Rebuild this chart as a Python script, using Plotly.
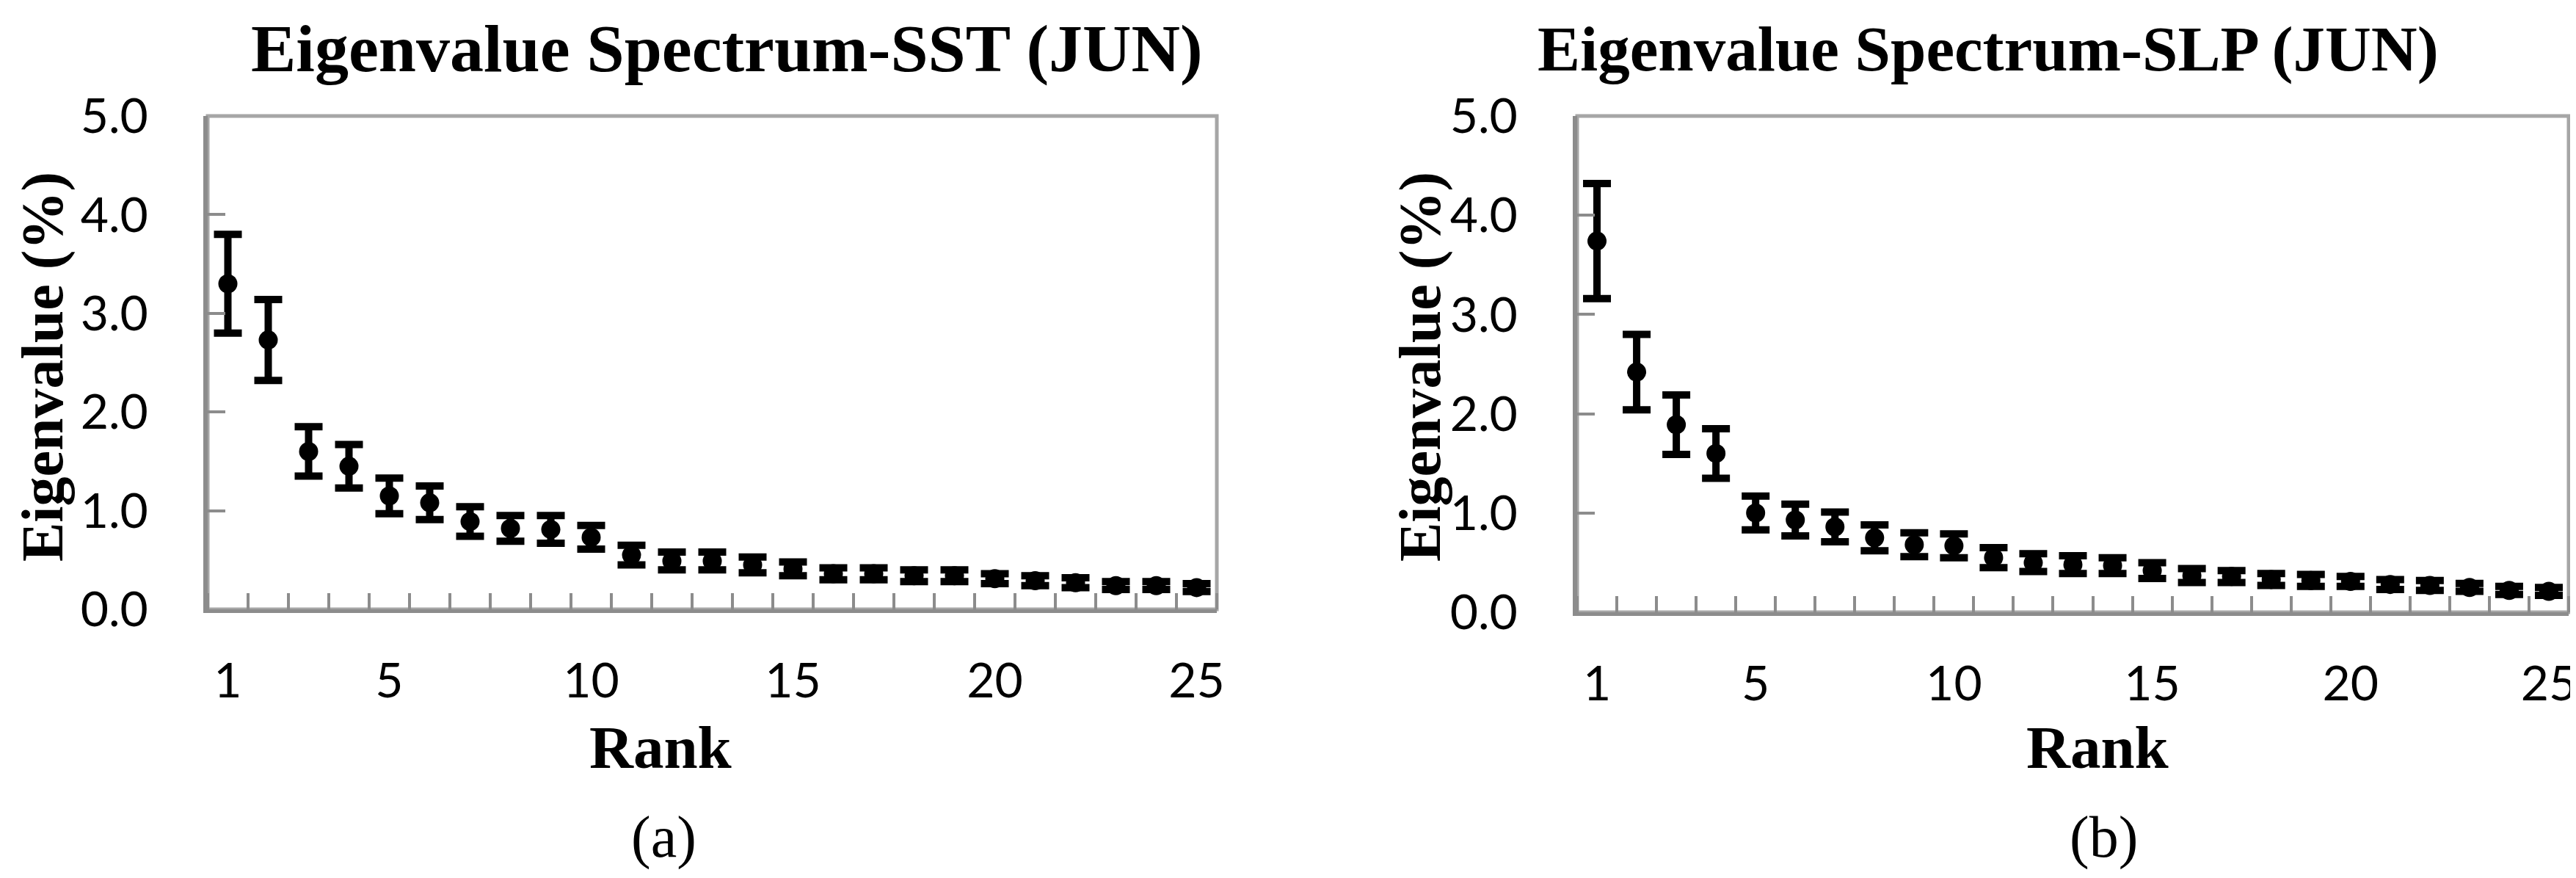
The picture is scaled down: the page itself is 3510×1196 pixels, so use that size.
# Eigenvalue spectra (SST and SLP, June) with error bars, two panels side by side
import plotly.graph_objects as go
from plotly.subplots import make_subplots

rank = list(range(1, 26))

# panel (a): SST
sst_val = [3.30, 2.73, 1.60, 1.45, 1.15, 1.08, 0.89, 0.82, 0.81, 0.73,
           0.55, 0.49, 0.49, 0.45, 0.41, 0.36, 0.36, 0.34, 0.34, 0.31,
           0.29, 0.27, 0.24, 0.24, 0.22]
sst_err = [0.50, 0.41, 0.25, 0.22, 0.18, 0.17, 0.15, 0.13, 0.14, 0.12,
           0.10, 0.09, 0.09, 0.08, 0.07, 0.06, 0.06, 0.06, 0.06, 0.05,
           0.05, 0.05, 0.04, 0.04, 0.04]

# panel (b): SLP
slp_val = [3.74, 2.42, 1.89, 1.60, 1.00, 0.93, 0.86, 0.75, 0.68, 0.67,
           0.55, 0.50, 0.48, 0.47, 0.42, 0.37, 0.36, 0.33, 0.32, 0.31,
           0.28, 0.27, 0.25, 0.22, 0.21]
slp_err = [0.58, 0.38, 0.30, 0.25, 0.17, 0.16, 0.15, 0.13, 0.12, 0.12,
           0.10, 0.09, 0.09, 0.08, 0.08, 0.07, 0.06, 0.06, 0.06, 0.05,
           0.05, 0.05, 0.04, 0.04, 0.04]

x_labels = [1, 5, 10, 15, 20, 25]
y_ticks = [0, 1, 2, 3, 4, 5]

# the page body has an 8px margin, so the figure is 8px smaller than the window
OFF = 8
W, H = 3510 - OFF, 1196 - OFF
AXIS_GREY = "#8c8c8c"
BORDER_GREY = "#a6a6a6"
SERIF = "Liberation Serif, Times New Roman, serif"
SANS = "Lato, Carlito, Calibri, sans-serif"

fig = make_subplots(rows=1, cols=2)

for col, vals, errs in [(1, sst_val, sst_err), (2, slp_val, slp_err)]:
    fig.add_trace(go.Scatter(
        x=rank, y=vals, mode="markers",
        marker=dict(color="black", size=26, symbol="circle"),
        error_y=dict(type="data", array=errs, visible=True,
                     color="black", thickness=10, width=19),
        showlegend=False), row=1, col=col)

# window pixel positions (from the top-left corner) -> paper fractions
def px_x(p):
    return (p - OFF) / W

def px_y(p):
    return 1 - (p - OFF) / H

fig.update_layout(
    template="none",
    width=W, height=H, autosize=False,
    margin=dict(l=0, r=0, t=0, b=0, pad=0),
    paper_bgcolor="white", plot_bgcolor="white",
    xaxis=dict(domain=[px_x(283), px_x(1658)]),
    xaxis2=dict(domain=[px_x(2149), px_x(3500)]),
    yaxis=dict(domain=[px_y(830), px_y(158)]),
    yaxis2=dict(domain=[px_y(834), px_y(158)]),
)

fig.update_xaxes(
    automargin=False, ticklabeloverflow="allow",
    range=[0.5, 25.5], tickmode="array", tickvals=x_labels,
    ticks="", showgrid=False, zeroline=False,
    showline=True, linecolor=AXIS_GREY, linewidth=5,
    tickfont=dict(family=SANS, size=66, color="black"),
    ticklabelstandoff=36,
    minor=dict(tickmode="array", tickvals=[i + 0.5 for i in range(0, 26)],
               ticks="inside", ticklen=22, tickwidth=4, tickcolor=AXIS_GREY,
               showgrid=False),
)
fig.update_yaxes(
    automargin=False, ticklabeloverflow="allow",
    range=[0, 5], tickmode="array", tickvals=y_ticks, tickformat=".1f",
    ticks="inside", ticklen=24, tickwidth=4, tickcolor=AXIS_GREY,
    showgrid=False, zeroline=False,
    showline=True, linecolor=AXIS_GREY, linewidth=6,
    tickfont=dict(family=SANS, size=66, color="black"),
    ticklabelstandoff=62,
)

# lighter outer frame on the top and right sides
for xr, yr in [("x domain", "y domain"), ("x2 domain", "y2 domain")]:
    fig.add_shape(type="rect", xref=xr, yref=yr, x0=0, x1=1, y0=0, y1=1,
                  line=dict(color=BORDER_GREY, width=5), layer="below")

texts = [
    # text, x px, y px, size, bold, angle
    ("Eigenvalue Spectrum-SST (JUN)", 990, 66, 92, True, 0),
    ("Eigenvalue Spectrum-SLP (JUN)", 2709, 66, 87, True, 0),
    ("Eigenvalue (%)", 58, 500, 80, True, -90),
    ("Eigenvalue (%)", 1935, 500, 80, True, -90),
    ("Rank", 900, 1018, 83, True, 0),
    ("Rank", 2858, 1018, 83, True, 0),
    ("(a)", 904, 1140, 80, False, 0),
    ("(b)", 2866, 1140, 80, False, 0),
]
for t, xp, yp, sz, bold, ang in texts:
    fig.add_annotation(
        text="<b>%s</b>" % t if bold else t,
        x=px_x(xp), y=px_y(yp), xref="paper", yref="paper",
        xanchor="center", yanchor="middle", showarrow=False,
        textangle=ang, font=dict(family=SERIF, size=sz, color="black"))

fig.write_html("out.html")
